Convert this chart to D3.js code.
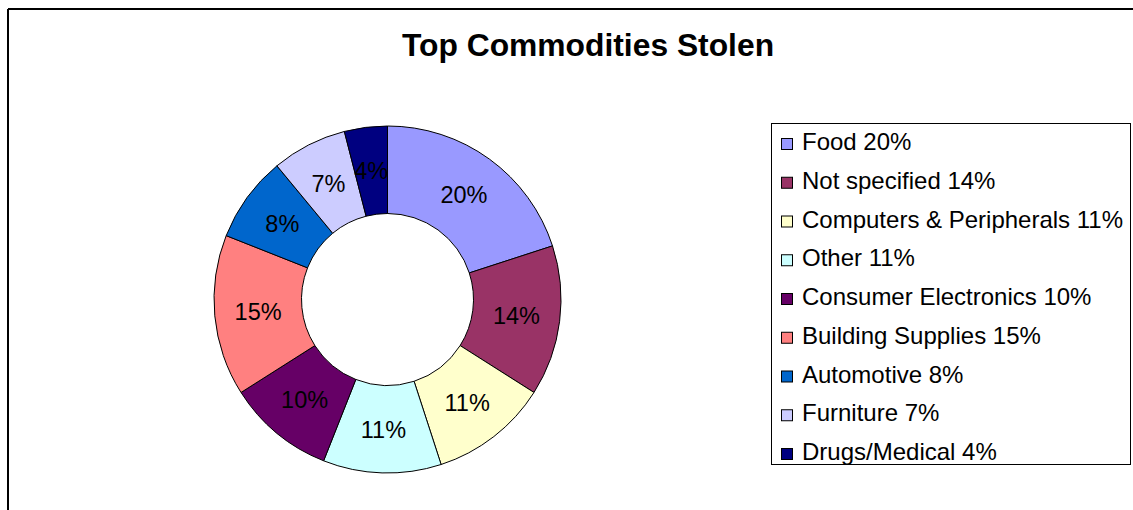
<!DOCTYPE html>
<html>
<head>
<meta charset="utf-8">
<script src="https://cdn.jsdelivr.net/npm/d3@7"></script>
<style>
  html, body { margin: 0; padding: 0; background: #fff; }
  svg { display: block; }
</style>
</head>
<body>
<svg id="chart" width="1133" height="510"></svg>
<script>
const categories = ["Food", "Not specified", "Computers & Peripherals", "Other", "Consumer Electronics", "Building Supplies", "Automotive", "Furniture", "Drugs/Medical"];
const values = [20, 14, 11, 11, 10, 15, 8, 7, 4];
const colors = ["#9999FF", "#993366", "#FFFFCC", "#CCFFFF", "#660066", "#FF8080", "#0066CC", "#CCCCFF", "#000080"];
const title = "Top Commodities Stolen";

const svg = d3.select("#chart");
const font = "Liberation Sans, Arial, sans-serif";

// frame
svg.append("line").attr("x1", 8).attr("y1", 9).attr("x2", 1133).attr("y2", 9)
  .attr("stroke", "#000").attr("stroke-width", 2);
svg.append("line").attr("x1", 8).attr("y1", 9).attr("x2", 8).attr("y2", 510)
  .attr("stroke", "#000").attr("stroke-width", 2);

// title
svg.append("text").attr("x", 588).attr("y", 56).attr("text-anchor", "middle")
  .attr("font-family", font).attr("font-weight", "bold").attr("font-size", 31.8)
  .attr("fill", "#000").text(title);

// donut
const cx = 387.5, cy = 299.5, rOuter = 173.5, rInner = 86;
const data = categories.map((c, i) => ({ name: c, value: values[i], color: colors[i] }));
const pie = d3.pie().value(d => d.value).sort(null);
const arc = d3.arc().innerRadius(rInner).outerRadius(rOuter);
const labelArc = d3.arc().innerRadius(130).outerRadius(130);
const g = svg.append("g").attr("transform", `translate(${cx},${cy})`);
const arcs = pie(data);
g.selectAll("path").data(arcs).join("path")
  .attr("d", arc).attr("fill", d => d.data.color)
  .attr("stroke", "#000").attr("stroke-width", 1);
g.selectAll("text").data(arcs).join("text")
  .attr("transform", d => `translate(${labelArc.centroid(d)})`)
  .attr("text-anchor", "middle").attr("dy", "0.36em")
  .attr("font-family", font).attr("font-size", 23.5).attr("fill", "#000")
  .text(d => d.data.value + "%");

// legend
const lg = svg.append("g");
lg.append("rect").attr("x", 771.5).attr("y", 123.5).attr("width", 359).attr("height", 341)
  .attr("fill", "#fff").attr("stroke", "#000").attr("stroke-width", 1);
const rowY = d3.scaleLinear().domain([0, 1]).range([150, 188.75]);
const items = lg.selectAll("g.item").data(data).join("g").attr("class", "item")
  .attr("transform", (d, i) => `translate(0,${rowY(i)})`);
items.append("rect").attr("x", 781.5).attr("y", -11.5).attr("width", 11).attr("height", 11)
  .attr("fill", d => d.color).attr("stroke", "#000").attr("stroke-width", 1);
items.append("text").attr("x", 802).attr("y", 0)
  .attr("font-family", font).attr("font-size", 24).attr("fill", "#000")
  .text(d => `${d.name} ${d.value}%`);
</script>
</body>
</html>
